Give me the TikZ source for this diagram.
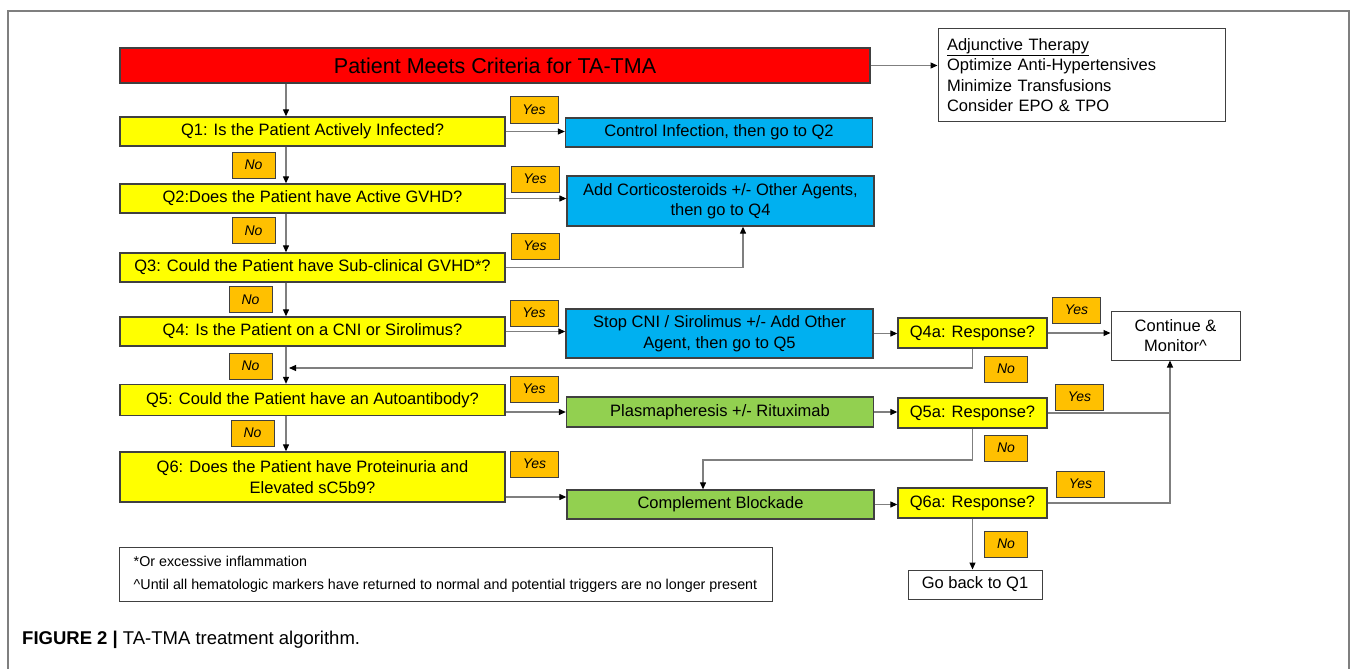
\documentclass[tikz,border=0pt]{standalone}
\usepackage{fontspec}
\setmainfont{Liberation Sans}
\usetikzlibrary{arrows.meta}

\definecolor{tmared}{HTML}{FF0000}
\definecolor{tmayellow}{HTML}{FFFF00}
\definecolor{tmablue}{HTML}{00B0F0}
\definecolor{tmagreen}{HTML}{92D050}
\definecolor{tmaorange}{HTML}{FFC000}
\definecolor{tmaedge}{HTML}{404040}
\definecolor{tmaline}{HTML}{7F7F7F}

\begin{document}
\begin{tikzpicture}[x=1pt,y=-1pt,
	box/.style={draw=tmaedge,line width=1.3pt,inner sep=2pt,align=center,font=\fontsize{16.5}{20.5}\selectfont},
	qbox/.style={box,fill=tmayellow,minimum width=385,minimum height=29},
	abox/.style={box,fill=tmayellow,minimum width=149,minimum height=30},
	actbox/.style={box,minimum width=307,minimum height=29},
	plainbox/.style={draw=tmaedge,line width=1pt,fill=white,align=center,font=\fontsize{16.5}{20.5}\selectfont},
	lab/.style={draw=tmaedge,line width=1pt,fill=tmaorange,inner sep=0pt,minimum height=26,font=\fontsize{14}{16}\selectfont\itshape},
	yes/.style={lab,minimum width=48},
	no/.style={lab,minimum width=43},
	conn/.style={draw=tmaline,line width=1.1pt},
	arr/.style={conn,-{Triangle[length=7pt,width=6pt,color=black]}}
]
	
	\useasboundingbox (0,0) rectangle (1358,669);
	%\draw[help lines,step=50] (0,0) grid (1358,669);
	
	% frame
	\draw[tmaline,line width=1.2pt] (8,669) -- (8,11) -- (1349,11) -- (1349,669);
	
	% main column
	\node[box,fill=tmared,minimum width=750,minimum height=35,font=\fontsize{21.5}{24}\selectfont] (red) at (495,65.5) {Patient Meets Criteria for TA-TMA};
	\node[qbox] (q1) at (312.5,131.5) {Q1: Is the Patient Actively Infected?};
	\node[qbox] (q2) at (312.5,198.5) {Q2:Does the Patient have Active GVHD?};
	\node[qbox] (q3) at (312.5,267.5) {Q3: Could the Patient have Sub-clinical GVHD*?};
	\node[qbox] (q4) at (312.5,331.5) {Q4: Is the Patient on a CNI or Sirolimus?};
	\node[qbox,minimum height=31] (q5) at (312.5,400) {Q5: Could the Patient have an Autoantibody?};
	\node[qbox,minimum height=50] (q6) at (312.5,477) {Q6: Does the Patient have Proteinuria and\\Elevated sC5b9?};
	
	% actions
	\node[actbox,fill=tmablue] (ctrl) at (719,132.5) {Control Infection, then go to Q2};
	\node[actbox,fill=tmablue,minimum height=50] (cort) at (720.5,201) {Add Corticosteroids +/- Other Agents,\\then go to Q4};
	\node[actbox,fill=tmablue,minimum height=49] (stop) at (719.5,333.5) {Stop CNI / Sirolimus +/- Add Other\\Agent, then go to Q5};
	\node[actbox,fill=tmagreen,minimum height=30] (plasma) at (720,412) {Plasmapheresis +/- Rituximab};
	\node[actbox,fill=tmagreen] (comp) at (720.5,504.5) {Complement Blockade};
	
	% responses
	\node[abox] (q4a) at (972.5,333) {Q4a: Response?};
	\node[abox] (q5a) at (972.5,413) {Q5a: Response?};
	\node[abox] (q6a) at (972.5,503) {Q6a: Response?};
	
	\node[plainbox,minimum width=129,minimum height=49] (cont) at (1175.5,335.5) {Continue \&\\Monitor\textasciicircum};
	\node[plainbox,minimum width=134,minimum height=29] (back) at (975,584.5) {Go back to Q1};
	
	\node[plainbox,minimum width=287,minimum height=92,inner xsep=9pt,text width=269,align=left] (adj) at (1081.5,75) {\underline{Adjunctive Therapy}\\Optimize Anti-Hypertensives\\Minimize Transfusions\\Consider EPO \& TPO};
	
	% yes / no labels
	\node[yes] (yes1) at (534,110) {Yes};
	\node[yes] (yes2) at (535,179) {Yes};
	\node[yes] (yes3) at (535,246) {Yes};
	\node[yes] (yes4) at (534,313) {Yes};
	\node[yes] (yes5) at (534,389) {Yes};
	\node[yes] (yes6) at (534.5,464) {Yes};
	\node[yes] (yes4a) at (1076.5,310) {Yes};
	\node[yes] (yes5a) at (1079.5,397) {Yes};
	\node[yes] (yes6a) at (1080.5,484) {Yes};
	\node[no] (no1) at (253.5,165) {No};
	\node[no] (no2) at (253.5,230.5) {No};
	\node[no] (no3) at (250.5,299.5) {No};
	\node[no] (no4) at (250.5,366) {No};
	\node[no] (no5) at (252.5,433) {No};
	\node[no] (no4a) at (1006,369) {No};
	\node[no] (no5a) at (1006,448) {No};
	\node[no] (no6a) at (1006,544) {No};
	
	% footnotes and caption
	\node[plainbox,minimum width=653,minimum height=54,inner xsep=7pt,align=left,font=\fontsize{14.3}{17}\selectfont] (note) at (445.5,574) {*Or excessive inflammation\\[6pt]\textasciicircum Until all hematologic markers have returned to normal and potential triggers are no longer present};
	\node[anchor=west,inner sep=0pt,font=\fontsize{18.5}{21}\selectfont] (cap) at (22,640) {\textbf{FIGURE 2 |} TA-TMA treatment algorithm.};
	
	\coordinate (spine) at (286,0);
	\coordinate (join) at (1170,0);
	\coordinate (j3) at (743,0);
	\coordinate (r4) at (289,368);
	\coordinate (j5) at (703,460);
	
	% connectors
	\draw[arr] (red.east) -- (red.east -| adj.west);
	\draw[arr] (red.south -| spine) -- (q1.north -| spine);
	\draw[arr] (q1.south -| spine) -- (q2.north -| spine);
	\draw[arr] (q2.south -| spine) -- (q3.north -| spine);
	\draw[arr] (q3.south -| spine) -- (q4.north -| spine);
	\draw[arr] (q4.south -| spine) -- (q5.north -| spine);
	\draw[arr] (q5.south -| spine) -- (q6.north -| spine);
	
	\draw[arr] (q1.east) -- (q1.east -| ctrl.west);
	\draw[arr] (q2.east) -- (q2.east -| cort.west);
	\draw[arr] (q3.east) -| (cort.south -| j3);
	\draw[arr] (q4.east) -- (q4.east -| stop.west);
	\draw[arr] (plasma.west -| q5.east) -- (plasma.west);
	\draw[arr] ([yshift=-20pt]q6.east) -- ([yshift=-20pt]q6.east -| comp.west);
	
	\draw[arr] (stop.east) -- (stop.east -| q4a.west);
	\draw[arr] (plasma.east) -- (plasma.east -| q5a.west);
	\draw[arr] (comp.east) -- (comp.east -| q6a.west);
	
	\draw[arr] (q4a.east) -- (q4a.east -| cont.west);
	\draw[arr] (q4a.south) |- (r4);
	\draw[conn] (q5a.east) -- (q5a.east -| join);
	\draw[arr] (q5a.south) |- (j5) -- (comp.north -| j5);
	\draw[arr] (q6a.east) -| (cont.south -| join);
	\draw[arr] (q6a.south) -- (q6a.south |- back.north);
	
\end{tikzpicture}
\end{document}
